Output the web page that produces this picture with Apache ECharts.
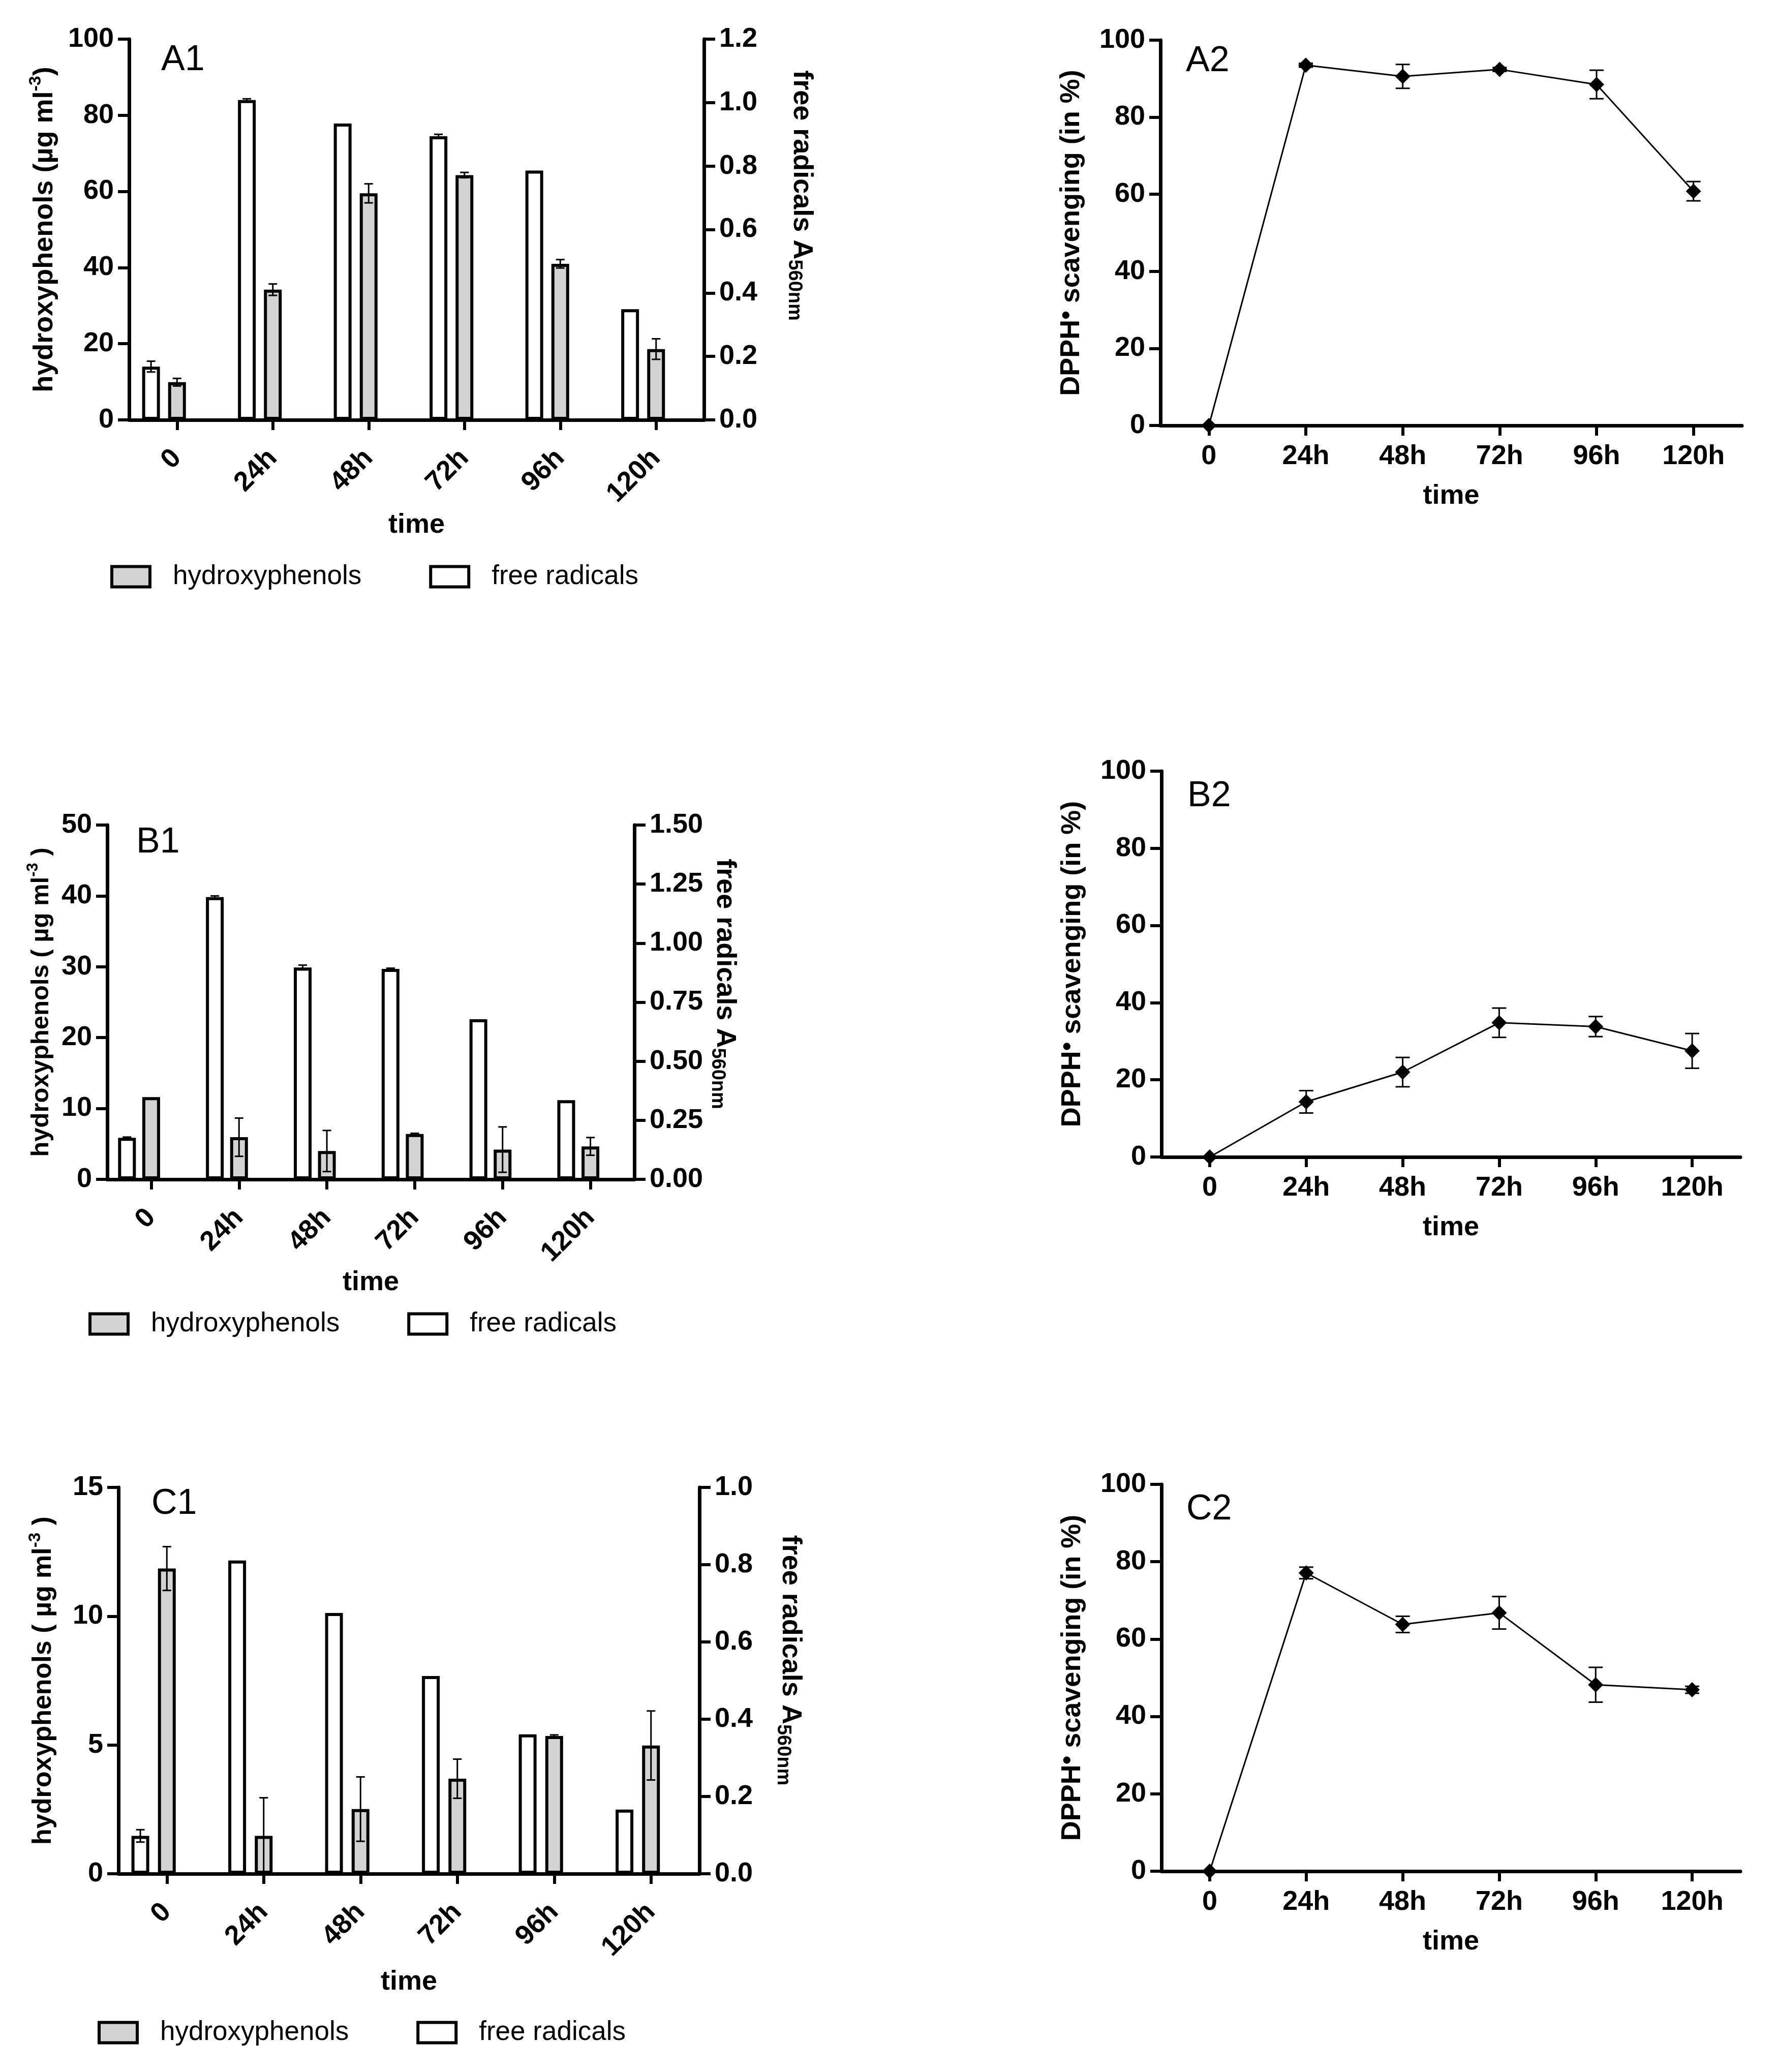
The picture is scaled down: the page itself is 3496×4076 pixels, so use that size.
<!DOCTYPE html>
<html>
<head>
<meta charset="utf-8">
<script src="https://cdn.jsdelivr.net/npm/echarts@6/dist/echarts.min.js"></script>
<style>
html, body { margin: 0; padding: 0; background: #fff; }
#chart { width: 3496px; height: 4076px; }
</style>
</head>
<body>
<div id="chart"></div>
<script>
var times = ['0', '24h', '48h', '72h', '96h', '120h'];

// panel A
var a1Hydro = [9.9, 34.2, 59.5, 64.3, 41.0, 18.6];
var a1HydroErr = [1.0, 1.5, 2.5, 0.7, 1.1, 2.7];
var a1Rad = [0.168, 1.008, 0.934, 0.894, 0.786, 0.349];
var a1RadErr = [0.017, 0.004, 0, 0.006, 0, 0];
var a2Dpph = [0, 93.5, 90.6, 92.4, 88.5, 60.8];
var a2DpphErr = [0, 0.5, 3.1, 0.5, 3.7, 2.5];

// panel B
var b1Hydro = [11.6, 5.95, 4.0, 6.4, 4.2, 4.65];
var b1HydroErr = [0, 2.7, 2.9, 0.1, 3.2, 1.25];
var b1Rad = [0.176, 1.195, 0.897, 0.891, 0.678, 0.335];
var b1RadErr = [0.003, 0.005, 0.01, 0.003, 0, 0];
var b2Dpph = [0, 14.3, 22.0, 34.8, 33.8, 27.5];
var b2DpphErr = [0, 2.9, 3.8, 3.8, 2.6, 4.5];

// panel C
var c1Hydro = [11.85, 1.47, 2.51, 3.69, 5.35, 4.98];
var c1HydroErr = [0.85, 1.48, 1.25, 0.76, 0.04, 1.34];
var c1Rad = [0.098, 0.811, 0.675, 0.512, 0.361, 0.166];
var c1RadErr = [0.016, 0, 0, 0, 0, 0];
var c2Dpph = [0, 77.1, 63.8, 66.8, 48.2, 46.9];
var c2DpphErr = [0, 1.5, 2.1, 4.2, 4.5, 0.9];

// tick labels
var a1HydroTicks = [0, 20, 40, 60, 80, 100];
var a1RadTicks = [0.0, 0.2, 0.4, 0.6, 0.8, 1.0, 1.2];
var b1HydroTicks = [0, 10, 20, 30, 40, 50];
var b1RadTicks = [0.00, 0.25, 0.50, 0.75, 1.00, 1.25, 1.50];
var c1HydroTicks = [0, 5, 10, 15];
var c1RadTicks = [0.0, 0.2, 0.4, 0.6, 0.8, 1.0];
var dpphTicks = [0, 20, 40, 60, 80, 100];

var FONT = 'Liberation Sans, Arial, Helvetica, sans-serif';
var BAR_W = 35;

var chart = echarts.init(document.getElementById('chart'), null, {renderer: 'canvas'});

function yAxis(grid, ticks, dec, pos, name, gap, rot, nameSize, namePad) {
	return {
		type: 'value',
		gridIndex: grid,
		position: pos,
		min: ticks[0],
		max: ticks[ticks.length - 1],
		interval: ticks[1] - ticks[0],
		splitLine: {show: false},
		axisLine: {show: true, onZero: false, lineStyle: {color: '#000', width: 7}},
		axisTick: {show: true, length: 22, lineStyle: {color: '#000', width: 6}},
		axisLabel: {
			margin: 30,
			color: '#000',
			fontFamily: FONT,
			fontWeight: 'bold',
			fontSize: 54,
			formatter: function (v) { return v.toFixed(dec); }
		},
		name: name,
		nameLocation: 'middle',
		nameGap: gap,
		nameRotate: rot,
		nameTextStyle: {
			color: '#000',
			fontFamily: FONT,
			fontWeight: 'bold',
			fontSize: nameSize,
			padding: namePad || 0,
			rich: {
				b: {fontFamily: FONT, fontWeight: 'bold', fontSize: nameSize, lineHeight: nameSize + 14, color: '#000'},
				sup: {fontFamily: FONT, fontWeight: 'bold', fontSize: Math.round(nameSize * 0.63), lineHeight: 34, verticalAlign: 'top', color: '#000'},
				dot: {fontFamily: FONT, fontWeight: 'bold', fontSize: 50, lineHeight: 40, verticalAlign: 'top', color: '#000'},
				sub: {fontFamily: FONT, fontWeight: 'bold', fontSize: 38, lineHeight: 38, verticalAlign: 'bottom', color: '#000'}
			}
		}
	};
}

function xAxis(grid, rotated, gap) {
	return {
		type: 'category',
		gridIndex: grid,
		data: times,
		boundaryGap: true,
		axisLine: {show: true, onZero: false, lineStyle: {color: '#000', width: 7}},
		axisTick: {show: true, alignWithLabel: true, length: 20, lineStyle: {color: '#000', width: 6}},
		axisLabel: {
			interval: 0,
			rotate: rotated ? 45 : 0,
			margin: rotated ? 67 : 34,
			color: '#000',
			fontFamily: FONT,
			fontWeight: 'bold',
			fontSize: 54
		},
		name: 'time',
		nameLocation: 'middle',
		nameGap: gap,
		nameTextStyle: {color: '#000', fontFamily: FONT, fontWeight: 'bold', fontSize: 54}
	};
}

function errBars(xi, yi, vals, errs, dx, cap) {
	return {
		type: 'custom',
		xAxisIndex: xi,
		yAxisIndex: yi,
		z: 6,
		silent: true,
		data: vals.map(function (v, i) { return [i, v, errs[i]]; }),
		renderItem: function (params, api) {
			var i = api.value(0), v = api.value(1), e = api.value(2);
			if (!e) return null;
			var hi = api.coord([i, v + e]);
			var lo = api.coord([i, v - e]);
			var x = hi[0] + dx;
			var st = {stroke: '#000', lineWidth: 3};
			return {
				type: 'group',
				children: [
					{type: 'line', shape: {x1: x, y1: hi[1], x2: x, y2: lo[1]}, style: st},
					{type: 'line', shape: {x1: x - cap / 2, y1: hi[1], x2: x + cap / 2, y2: hi[1]}, style: st},
					{type: 'line', shape: {x1: x - cap / 2, y1: lo[1], x2: x + cap / 2, y2: lo[1]}, style: st}
				]
			};
		}
	};
}

function barSet(xi, yLeft, yRight, hydro, hydroErr, rad, radErr, gapPct) {
	var common = {type: 'bar', xAxisIndex: xi, barWidth: BAR_W, barGap: gapPct + '%', z: 2};
	var dx = -(BAR_W * (1 + gapPct / 100));
	return [
		echarts.util.merge({name: 'free radicals', yAxisIndex: yRight, data: rad,
			itemStyle: {color: '#ffffff', borderColor: '#000', borderWidth: 6}}, common),
		echarts.util.merge({name: 'hydroxyphenols', yAxisIndex: yLeft, data: hydro,
			itemStyle: {color: '#d3d3d3', borderColor: '#000', borderWidth: 6}}, common),
		// empty slot so that the grey bar sits on the tick, as in the original
		echarts.util.merge({name: 'slot', yAxisIndex: yLeft, data: times.map(function () { return null; })}, common),
		errBars(xi, yRight, rad, radErr, dx, 17),
		errBars(xi, yLeft, hydro, hydroErr, 0, 17)
	];
}

function lineSet(xi, yi, vals, errs) {
	return [
		{
			type: 'line',
			xAxisIndex: xi,
			yAxisIndex: yi,
			data: vals,
			symbol: 'diamond',
			symbolSize: 30,
			lineStyle: {color: '#000', width: 3},
			itemStyle: {color: '#000'},
			z: 3
		},
		errBars(xi, yi, vals, errs, 0, 28)
	];
}

function legendAt(left, top) {
	return {
		data: ['hydroxyphenols', 'free radicals'],
		left: left,
		top: top,
		padding: 0,
		icon: 'rect',
		itemWidth: 75,
		itemHeight: 40,
		itemGap: 133,
		selectedMode: false,
		itemStyle: {borderWidth: 6, borderColor: '#000'},
		textStyle: {color: '#000', fontFamily: FONT, fontSize: 53, padding: [0, 0, 0, 40]}
	};
}

function panelTitle(text, left, top) {
	return {text: text, left: left, top: top, padding: 0,
		textStyle: {color: '#000', fontFamily: FONT, fontWeight: 'normal', fontSize: 70}};
}

var hydroName1 = '{b|hydroxyphenols (µg ml}{sup|-3}{b|)}';
var hydroName2 = '{b|hydroxyphenols ( µg ml}{sup|-3}{b| )}';
var radName = '{b|free radicals A}{sub|560nm}';
var dpphName = '{b|DPPH}{dot|•}{b| scavenging (in %)}';

var option = {
	animation: false,
	backgroundColor: '#fff',
	title: [
		panelTitle('A1', 317, 84),
		panelTitle('A2', 2333, 86),
		panelTitle('B1', 268, 1623),
		panelTitle('B2', 2336, 1532),
		panelTitle('C1', 298, 2924),
		panelTitle('C2', 2334, 2935)
	],
	legend: [legendAt(217, 1108), legendAt(174, 2578), legendAt(192, 3972)],
	grid: [
		{left: 254, top: 77, width: 1131, height: 749},
		{left: 2283, top: 79, width: 1144, height: 758},
		{left: 211, top: 1623, width: 1037, height: 697},
		{left: 2285, top: 1517, width: 1139, height: 759},
		{left: 233, top: 2926, width: 1143, height: 760},
		{left: 2285, top: 2920, width: 1139, height: 761}
	],
	xAxis: [
		xAxis(0, true, 180),
		xAxis(1, false, 112),
		xAxis(2, true, 162),
		xAxis(3, false, 112),
		xAxis(4, true, 186),
		xAxis(5, false, 112)
	],
	yAxis: [
		yAxis(0, a1HydroTicks, 0, 'left', hydroName1, 132, 90, 54),
		yAxis(0, a1RadTicks, 1, 'right', radName, 158, -90, 54, [0, 134, 0, 0]),
		yAxis(1, dpphTicks, 0, 'left', dpphName, 141, 90, 54),
		yAxis(2, b1HydroTicks, 0, 'left', hydroName2, 98, 90, 49),
		yAxis(2, b1RadTicks, 2, 'right', radName, 144, -90, 54, [0, 72, 0, 0]),
		yAxis(3, dpphTicks, 0, 'left', dpphName, 141, 90, 54),
		yAxis(4, c1HydroTicks, 0, 'left', hydroName2, 114, 90, 52),
		yAxis(4, c1RadTicks, 1, 'right', radName, 145, -90, 54, [0, 80, 0, 0]),
		yAxis(5, dpphTicks, 0, 'left', dpphName, 141, 90, 54)
	],
	series: [].concat(
		barSet(0, 0, 1, a1Hydro, a1HydroErr, a1Rad, a1RadErr, 46),
		lineSet(1, 2, a2Dpph, a2DpphErr),
		barSet(2, 3, 4, b1Hydro, b1HydroErr, b1Rad, b1RadErr, 36),
		lineSet(3, 5, b2Dpph, b2DpphErr),
		barSet(4, 6, 7, c1Hydro, c1HydroErr, c1Rad, c1RadErr, 49),
		lineSet(5, 8, c2Dpph, c2DpphErr)
	)
};

chart.setOption(option);
</script>
</body>
</html>
